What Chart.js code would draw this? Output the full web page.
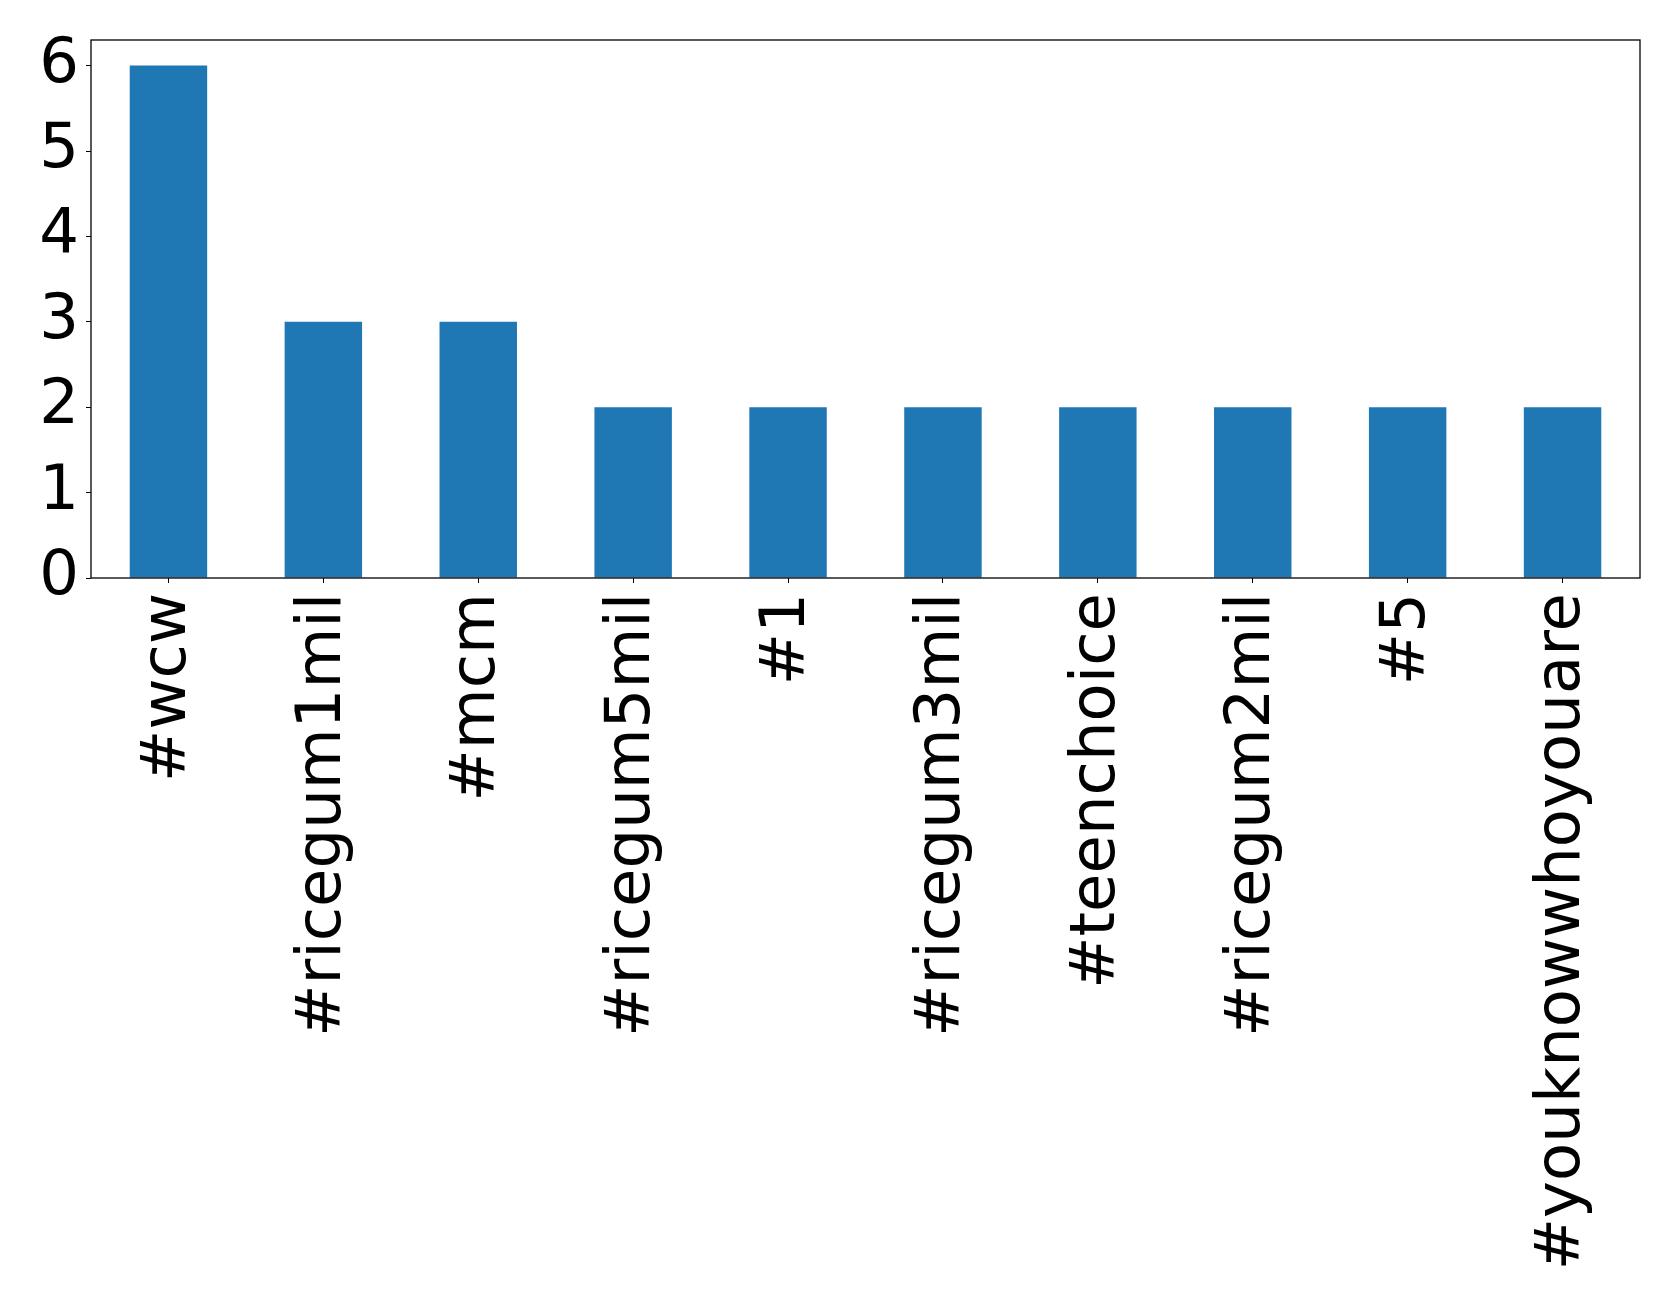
<!DOCTYPE html>
<html>
<head>
<meta charset="utf-8">
<script src="https://cdn.jsdelivr.net/npm/chart.js@4"></script>
<style>
  html, body { margin: 0; padding: 0; background: #fff; }
  #wrap { width: 1679px; height: 1305px; }
</style>
</head>
<body>
<div id="wrap"><canvas id="hashtagChart" width="1679" height="1305"></canvas></div>
<script>
// hashtag counts
const hashtags = ['#wcw', '#ricegum1mil', '#mcm', '#ricegum5mil', '#1', '#ricegum3mil',
    '#teenchoice', '#ricegum2mil', '#5', '#youknowwhoyouare'];
const counts = [6, 3, 3, 2, 2, 2, 2, 2, 2, 2];
const yTicks = [0, 1, 2, 3, 4, 5, 6];

const tickFont = { family: 'DejaVu Sans', size: 62.5 };

// box around the plot area (matplotlib spines)
const frame = {
    id: 'frame',
    afterDraw(chart) {
        const { ctx, chartArea: a } = chart;
        ctx.save();
        ctx.strokeStyle = '#000';
        ctx.lineWidth = 1.3;
        ctx.strokeRect(a.left, a.top, a.right - a.left, a.bottom - a.top);
        ctx.restore();
    }
};

const ctx = document.getElementById('hashtagChart').getContext('2d');
new Chart(ctx, {
    type: 'bar',
    data: {
        labels: hashtags,
        datasets: [{
            data: counts,
            backgroundColor: '#1f77b4',
            barPercentage: 0.5,
            categoryPercentage: 1.0
        }]
    },
    options: {
        responsive: false,
        animation: false,
        layout: { padding: { top: 40, right: 39, left: 0, bottom: 0 } },
        plugins: { legend: { display: false }, tooltip: { enabled: false } },
        scales: {
            x: {
                offset: true,
                grid: { display: true, offset: false, drawOnChartArea: false, tickLength: 5, tickColor: '#000' },
                border: { display: false },
                ticks: {
                    autoSkip: false,
                    minRotation: 90,
                    maxRotation: 90,
                    padding: 10,
                    color: '#000',
                    font: tickFont
                },
                afterFit(scale) {
                    scale.height = 727;
                    scale.paddingLeft = 0;
                    scale.paddingRight = 0;
                }
            },
            y: {
                min: 0,
                max: 6.3,
                afterBuildTicks(scale) { scale.ticks = yTicks.map(v => ({ value: v })); },
                grid: { display: true, drawOnChartArea: false, tickLength: 5, tickColor: '#000' },
                border: { display: false },
                ticks: {
                    padding: 7,
                    color: '#000',
                    font: tickFont
                },
                afterFit(scale) {
                    scale.width = 91;
                    scale.paddingTop = 0;
                    scale.paddingBottom = 0;
                }
            }
        }
    },
    plugins: [frame]
});
</script>
</body>
</html>
